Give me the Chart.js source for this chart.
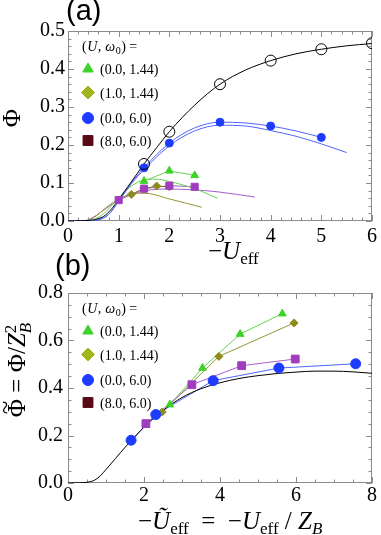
<!DOCTYPE html>
<html>
<head>
<meta charset="utf-8">
<script src="https://cdn.jsdelivr.net/npm/chart.js@4.4.0/dist/chart.umd.min.js"></script>
<style>
body{margin:0;width:381px;height:535px;background:#fff;position:relative;overflow:hidden;font-family:"Liberation Serif",serif}
canvas{position:absolute;left:0}
.lbl{position:absolute;white-space:nowrap;line-height:1;color:#000}
.panel{font-family:"Liberation Sans",sans-serif;font-size:29px}
.ttl{font-size:25px}
.sb{font-size:17px;position:relative;top:5px}
.rot{transform:translate(-50%,-50%) rotate(-90deg)}
.tl{position:relative;display:inline-block}
.tl b{position:absolute;font-weight:normal;left:3px;top:-12px}
</style>
</head>
<body>
<canvas id="chartA" width="381" height="265" style="top:0"></canvas>
<canvas id="chartB" width="381" height="270" style="top:265px"></canvas>

<div class="lbl panel" style="left:66px;top:-4px">(a)</div>
<div class="lbl panel" style="left:55px;top:251px">(b)</div>
<div class="lbl ttl" style="left:208px;top:238px">−<i>U</i><span class="sb">eff</span></div>
<div class="lbl ttl" style="left:138px;top:508px">−<i>Ũ</i><span class="sb">eff</span> &nbsp;= &nbsp;−<i>U</i><span class="sb">eff</span> / <i>Z</i><span class="sb"><i>B</i></span></div>
<div class="lbl ttl rot" style="left:11px;top:118px">Φ</div>
<div class="lbl ttl rot" style="left:18px;top:370px"><span class="tl">Φ<b>~</b></span> = Φ/<i>Z</i><span style="display:inline-block;vertical-align:-6px;line-height:0.9;font-size:17px"><span style="display:block">2</span><span style="display:block"><i>B</i></span></span></div>

<script>
// ---- panel (a): Phi vs -U_eff ----
var blackLineX = [0, 0.3, 0.5, 0.7, 0.85, 1.0, 1.25, 1.5, 1.75, 2.0, 2.5, 3.0, 3.5, 4.0, 4.5, 5.0, 5.5, 6.0, 6.5, 7.0, 7.5, 8.0];
var blackLineY = [0, 0.001, 0.003, 0.012, 0.03, 0.057, 0.103, 0.15, 0.193, 0.235, 0.305, 0.36, 0.397, 0.422, 0.44, 0.452, 0.461, 0.467, 0.471, 0.471, 0.468, 0.462];
var circleX = [1.5, 2, 3, 4, 5, 6];
var circleY = [0.15, 0.235, 0.36, 0.422, 0.452, 0.468];

var blueLowX = [0, 0.4, 0.6, 0.8, 1.0, 1.25, 1.5, 2.0, 2.5, 3.0, 3.5, 4.0, 4.5, 5.0, 5.5];
var blueLowY = [0, 0, 0.003, 0.017, 0.052, 0.098, 0.135, 0.198, 0.237, 0.252, 0.25, 0.238, 0.223, 0.203, 0.18];
var blueHighX = [0, 0.4, 0.6, 0.8, 1.0, 1.25, 1.5, 2.0, 2.5, 3.0, 3.5, 4.0, 4.5, 5.0];
var blueHighY = [0, 0, 0.003, 0.017, 0.052, 0.1, 0.14, 0.205, 0.245, 0.26, 0.258, 0.25, 0.237, 0.22];
var blueDotX = [1.5, 2, 3, 4, 5];
var blueDotY = [0.14, 0.205, 0.26, 0.25, 0.22];

var greenLowX = [0, 0.35, 0.55, 0.75, 1.0, 1.25, 1.5, 1.75, 2.0, 2.5, 2.95];
var greenLowY = [0, 0, 0.006, 0.025, 0.06, 0.092, 0.108, 0.11, 0.104, 0.085, 0.06];
var triX = [1.5, 2, 2.5];
var triY = [0.105, 0.132, 0.12];

var oliveLowX = [0, 0.3, 0.5, 0.75, 1.0, 1.25, 1.4, 1.6, 2.0, 2.3, 2.64];
var oliveLowY = [0, 0, 0.008, 0.035, 0.058, 0.071, 0.073, 0.072, 0.058, 0.048, 0.036];
var diaX = [1.25, 1.5, 1.75, 2.0];
var diaY = [0.07, 0.085, 0.092, 0.09];

var purpleLowX = [0, 0.3, 0.5, 0.75, 1.0, 1.5, 2.0, 2.5, 3.0, 3.69];
var purpleLowY = [0, 0, 0.01, 0.033, 0.055, 0.079, 0.084, 0.082, 0.076, 0.063];
var sqX = [1, 1.5, 2, 2.5];
var sqY = [0.055, 0.085, 0.093, 0.09];

// ---- panel (b): rescaled ----
var bBlueX = [1.66, 2.31, 3.82, 5.55, 7.57];
var bBlueY = [0.18, 0.288, 0.431, 0.484, 0.502];
var bSqX = [2.05, 3.26, 4.57, 5.98];
var bSqY = [0.25, 0.414, 0.494, 0.522];
var bTriX = [2.68, 3.54, 4.53, 5.64];
var bTriY = [0.33, 0.484, 0.627, 0.713];
var bDiaX = [2.48, 3.97, 5.95];
var bDiaY = [0.299, 0.533, 0.674];

var legendLabels = ['(0.0, 1.44)', '(1.0, 1.44)', '(0.0, 6.0)', '(8.0, 6.0)'];

var GREEN = 'rgb(60,210,40)', GREEN_L = 'rgb(100,210,80)';
var OLIVE = 'rgb(140,140,30)', OLIVE_L = 'rgb(150,150,50)', OLIVE_LEG = 'rgb(160,180,30)';
var BLUE = 'rgb(30,60,255)', BLUE_L = 'rgb(80,100,255)';
var PURPLE = 'rgb(160,60,190)', PURPLE_L = 'rgb(165,95,200)', MAROON = 'rgb(90,10,20)';

function pts(xs, ys) {
    var out = [];
    for (var i = 0; i < xs.length; i++) out.push({x: xs[i], y: ys[i]});
    return out;
}
function curve(xs, ys, color, smooth) {
    return {data: pts(xs, ys), showLine: true, pointRadius: 0, borderColor: color,
        borderWidth: 1, tension: 0, cubicInterpolationMode: smooth ? 'monotone' : 'default', order: 2, clip: 0};
}
function marks(xs, ys, style, r, fill, stroke) {
    return {data: pts(xs, ys), showLine: false, pointStyle: style, pointRadius: r,
        pointBackgroundColor: fill, pointBorderColor: stroke || fill, pointBorderWidth: 1, order: 1, clip: 0};
}

// frame with inward ticks on all four sides
var frameTicks = {
    id: 'frameTicks',
    beforeDatasetsDraw: function (chart, args, o) {
        var ctx = chart.ctx, a = chart.chartArea, x = chart.scales.x, y = chart.scales.y;
        ctx.save();
        ctx.strokeStyle = '#8c8c8c';
        ctx.lineWidth = 1;
        ctx.strokeRect(a.left + 0.5, a.top + 0.5, a.width - 1, a.height - 1);
        ctx.beginPath();
        var n = Math.round((x.max - x.min) / o.xMinor);
        for (var i = 0; i <= n; i++) {
            var px = Math.round(x.getPixelForValue(x.min + i * o.xMinor)) + 0.5;
            var len = (i % o.xEvery === 0) ? 6 : 3.5;
            ctx.moveTo(px, a.bottom); ctx.lineTo(px, a.bottom - len);
            ctx.moveTo(px, a.top); ctx.lineTo(px, a.top + len);
        }
        n = Math.round((y.max - y.min) / o.yMinor);
        for (var j = 0; j <= n; j++) {
            var py = Math.round(y.getPixelForValue(y.min + j * o.yMinor)) + 0.5;
            var l2 = (j % o.yEvery === 0) ? 6 : 3.5;
            ctx.moveTo(a.left, py); ctx.lineTo(a.left + l2, py);
            ctx.moveTo(a.right, py); ctx.lineTo(a.right - l2, py);
        }
        ctx.stroke();
        ctx.restore();
    }
};

// legend drawn inside the plot area
var insideLegend = {
    id: 'insideLegend',
    afterDatasetsDraw: function (chart) {
        var ctx = chart.ctx, a = chart.chartArea;
        ctx.save();
        ctx.fillStyle = '#000';
        ctx.textBaseline = 'alphabetic';
        var hx = a.left + 14, hy = a.top + 20;
        var parts = [['(', '14px "Liberation Serif"', 0], ['U', 'italic 14px "Liberation Serif"', 0],
            [', ', '14px "Liberation Serif"', 0], ['ω', 'italic 14px "Liberation Serif"', 0],
            ['0', '10px "Liberation Serif"', 3], [') =', '14px "Liberation Serif"', 0]];
        parts.forEach(function (p) {
            ctx.font = p[1];
            ctx.fillText(p[0], hx, hy + p[2]);
            hx += ctx.measureText(p[0]).width + 0.5;
        });
        var rows = [38, 61.5, 87, 109.5];
        var styles = [['triangle', 6, GREEN], ['rectRot', 6.5, OLIVE_LEG], ['circle', 5.5, BLUE], ['rect', 7, MAROON]];
        ctx.font = '14px "Liberation Serif"';
        for (var i = 0; i < 4; i++) {
            var cy = a.top + rows[i];
            ctx.fillStyle = styles[i][2];
            ctx.strokeStyle = styles[i][2];
            ctx.lineWidth = 1;
            Chart.helpers.drawPoint(ctx, {pointStyle: styles[i][0], radius: styles[i][1], rotation: 0, borderWidth: 1}, a.left + 20, cy);
            ctx.fillStyle = '#000';
            ctx.fillText(legendLabels[i], a.left + 32, cy + 5);
        }
        ctx.restore();
    }
};

function makeOptions(xMax, xStep, yMax, yStep, bottomH, rightPad, topPad, xPad, yPad, tk) {
    return {
        responsive: false,
        animation: false,
        devicePixelRatio: 1,
        layout: {padding: {left: 0, right: rightPad, top: topPad, bottom: 0}},
        plugins: {legend: {display: false}, tooltip: {enabled: false}, frameTicks: tk},
        scales: {
            x: {type: 'linear', min: 0, max: xMax,
                grid: {display: false, drawTicks: false}, border: {display: false},
                ticks: {stepSize: xStep, autoSkip: false, maxRotation: 0, padding: xPad, color: '#000',
                    font: {family: 'Liberation Serif', size: 20},
                    callback: function (v) { return String(v); }},
                afterFit: function (s) { s.height = bottomH; }},
            y: {type: 'linear', min: 0, max: yMax,
                grid: {display: false, drawTicks: false}, border: {display: false},
                ticks: {stepSize: yStep, autoSkip: false, padding: yPad, color: '#000',
                    font: {family: 'Liberation Serif', size: 20},
                    callback: function (v) { return v.toFixed(1); }},
                afterFit: function (s) { s.width = 68; }}
        }
    };
}

new Chart(document.getElementById('chartA'), {
    type: 'scatter',
    data: {datasets: [
        curve(blackLineX.slice(0, 18), blackLineY.slice(0, 18), '#000', true),
        curve(blueLowX, blueLowY, BLUE_L, true),
        curve(blueHighX, blueHighY, BLUE_L, true),
        curve(greenLowX, greenLowY, GREEN_L, true),
        curve(triX, triY, GREEN_L, false),
        curve(oliveLowX, oliveLowY, OLIVE_L, true),
        curve(diaX, diaY, 'rgb(130,110,50)', false),
        curve(purpleLowX, purpleLowY, PURPLE_L, true),
        curve(sqX, sqY, PURPLE_L, false),
        marks(circleX, circleY, 'circle', 5.5, 'rgba(0,0,0,0)', '#000'),
        marks(blueDotX, blueDotY, 'circle', 4, BLUE),
        marks(triX, triY, 'triangle', 4.5, GREEN),
        marks(sqX, sqY, 'rect', 5, PURPLE),
        marks(diaX, diaY, 'rectRot', 4, OLIVE)
    ]},
    options: makeOptions(6, 1, 0.5, 0.1, 44, 6, 31, 4, 3, {xMinor: 0.2, xEvery: 5, yMinor: 0.02, yEvery: 5}),
    plugins: [frameTicks, insideLegend]
});

new Chart(document.getElementById('chartB'), {
    type: 'scatter',
    data: {datasets: [
        curve(blackLineX, blackLineY, '#000', true),
        curve(bBlueX, bBlueY, BLUE_L, false),
        curve(bSqX, bSqY, PURPLE_L, false),
        curve(bTriX, bTriY, GREEN_L, false),
        curve(bDiaX, bDiaY, OLIVE_L, false),
        marks(bBlueX, bBlueY, 'circle', 5, BLUE),
        marks(bSqX, bSqY, 'rect', 5.5, PURPLE),
        marks(bTriX, bTriY, 'triangle', 4.5, GREEN),
        marks(bDiaX, bDiaY, 'rectRot', 4, OLIVE)
    ]},
    options: makeOptions(8, 2, 0.8, 0.2, 52, 9, 28, 1, 5, {xMinor: 0.5, xEvery: 4, yMinor: 0.05, yEvery: 4}),
    plugins: [frameTicks, insideLegend]
});
</script>
</body>
</html>
